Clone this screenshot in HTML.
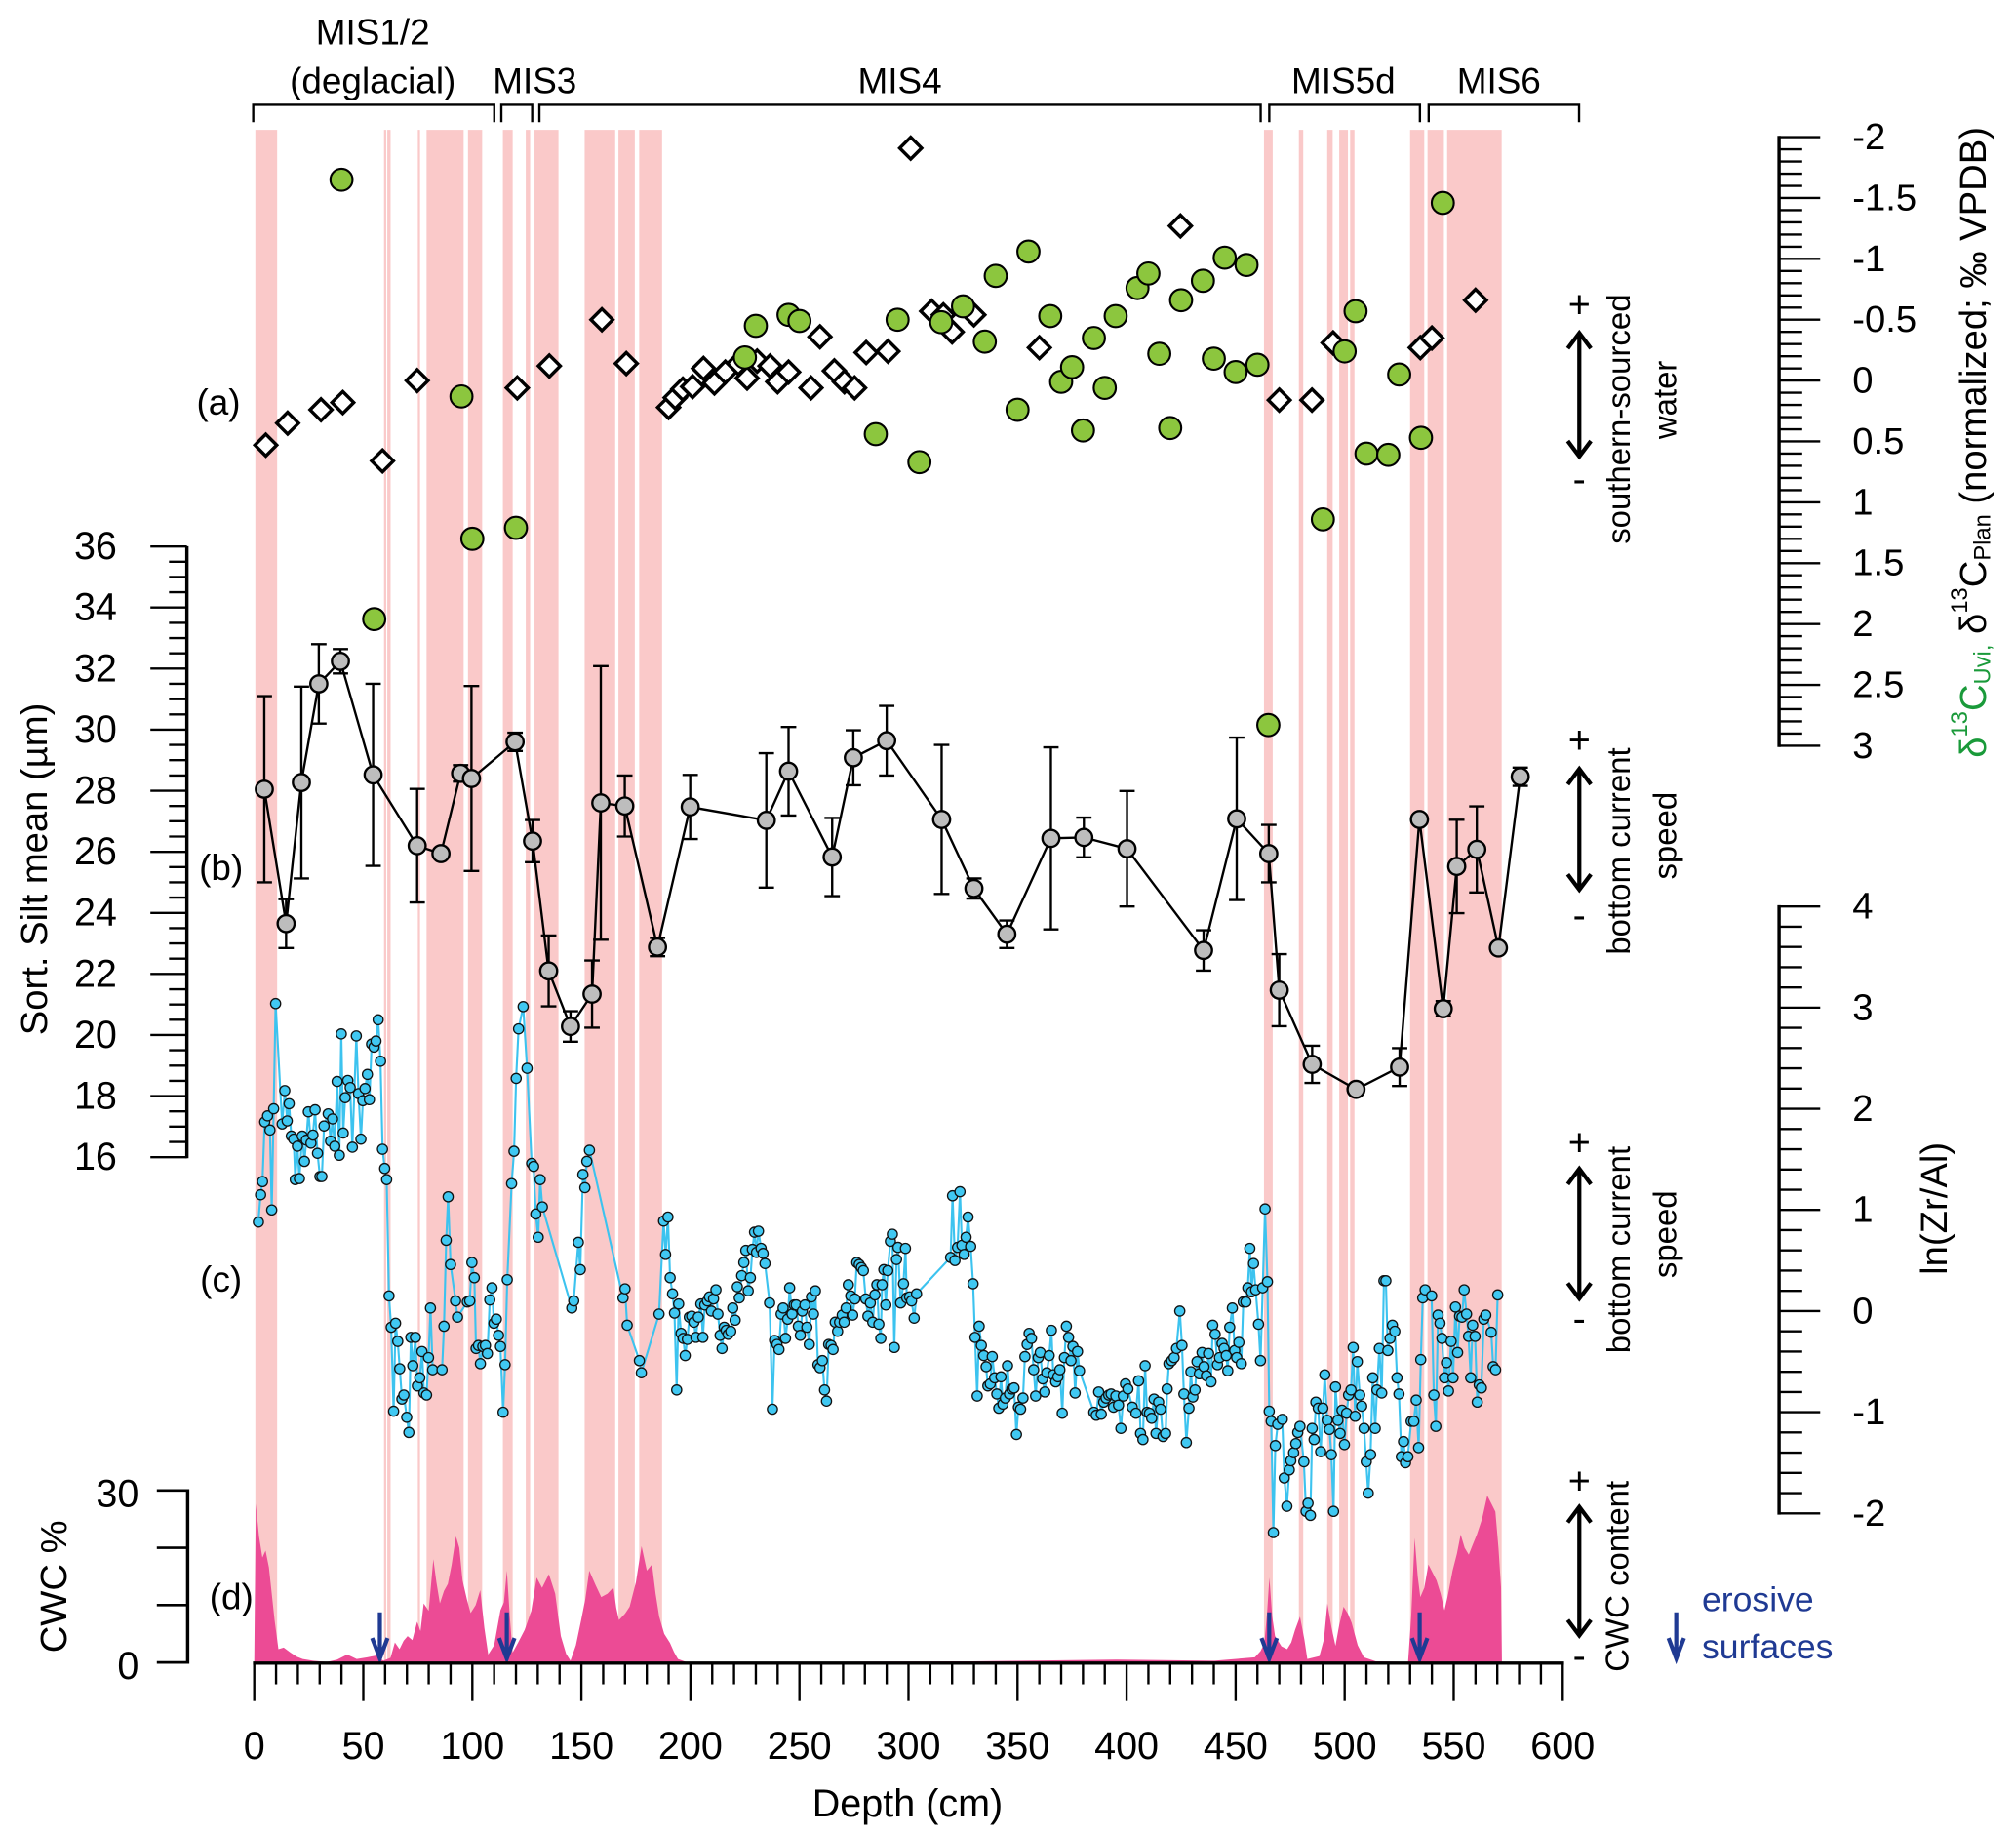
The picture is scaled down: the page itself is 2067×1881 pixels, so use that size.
<!DOCTYPE html>
<html><head><meta charset="utf-8"><style>
html,body{margin:0;padding:0;background:#fff;}
svg{display:block;font-family:"Liberation Sans",Arial,sans-serif;}
</style></head><body>
<svg id="chart" xmlns="http://www.w3.org/2000/svg" width="2067" height="1881" viewBox="0 0 1568.3 1427.2" preserveAspectRatio="none">
<g id="bands"></g>
<g id="cwc"></g>
<g id="zr"></g>
<g id="silt"></g>
<g id="iso"></g>
<g id="axes"></g>
<g id="labels" font-size="28" fill="#000">
  <text x="170" y="313" text-anchor="middle" dominant-baseline="central">(a)</text>
  <text x="172" y="675" text-anchor="middle" dominant-baseline="central">(b)</text>
  <text x="172" y="995" text-anchor="middle" dominant-baseline="central">(c)</text>
  <text x="180" y="1242" text-anchor="middle" dominant-baseline="central">(d)</text>
  <text x="706" y="1403" text-anchor="middle" dominant-baseline="central" font-size="30">Depth (cm)</text>
  <text transform="translate(27,676) rotate(-90)" text-anchor="middle" dominant-baseline="central" font-size="29">Sort. Silt mean (µm)</text>
  <text transform="translate(42,1234) rotate(-90)" text-anchor="middle" dominant-baseline="central" font-size="29">CWC %</text>
  <text transform="translate(1505,940) rotate(-90)" text-anchor="middle" dominant-baseline="central" font-size="29">ln(Zr/Al)</text>
  <text transform="translate(1535,344) rotate(-90)" text-anchor="middle" dominant-baseline="central" font-size="29"><tspan fill="#1a9a3a">δ<tspan font-size="18" dy="-10">13</tspan><tspan dy="10">C</tspan><tspan font-size="18" dy="8">Uvi,</tspan></tspan><tspan dy="-8"> δ</tspan><tspan font-size="18" dy="-10">13</tspan><tspan dy="10">C</tspan><tspan font-size="18" dy="8">Plan</tspan><tspan dy="-8">  (normalized; ‰ VPDB)</tspan></text>
  <text transform="translate(1259,326) rotate(-90)" text-anchor="middle" dominant-baseline="central" font-size="25">southern-sourced</text>
  <text transform="translate(1295,311) rotate(-90)" text-anchor="middle" dominant-baseline="central" font-size="25">water</text>
  <text transform="translate(1259,662) rotate(-90)" text-anchor="middle" dominant-baseline="central" font-size="25">bottom current</text>
  <text transform="translate(1295,650) rotate(-90)" text-anchor="middle" dominant-baseline="central" font-size="25">speed</text>
  <text transform="translate(1259,972) rotate(-90)" text-anchor="middle" dominant-baseline="central" font-size="25">bottom current</text>
  <text transform="translate(1295,960) rotate(-90)" text-anchor="middle" dominant-baseline="central" font-size="25">speed</text>
  <text transform="translate(1258,1226) rotate(-90)" text-anchor="middle" dominant-baseline="central" font-size="25">CWC content</text>
  <text x="1324" y="1253" font-size="27" fill="#1f3a93">erosive</text>
  <text x="1324" y="1290" font-size="27" fill="#1f3a93">surfaces</text>
</g>
<g id="mis" font-size="28"></g>
</svg>
<script>
// ---------- data ----------
const bandStart = [0.5, 59.5, 61, 75, 79, 98, 114, 124.5, 128.5, 151.5, 167, 176.5, 463, 479, 492, 497.5, 502.5, 530, 538, 547];
const bandEnd   = [10.5, 60.5, 62.5, 76, 96, 104.5, 118.5, 126.5, 139.5, 165.5, 174.5, 187, 467, 481, 494.5, 501.5, 504.5, 536.5, 545.5, 572];

const greenDepth = [40, 55, 95, 100, 120, 225, 230, 245, 250, 285, 295, 305, 315, 325, 335, 340, 350, 355, 365, 370, 375, 380, 385, 390, 395, 405, 410, 415, 420, 425, 435, 440, 445, 450, 455, 460, 465, 490, 500, 505, 510, 520, 525, 535, 545];
const greenVal   = [-1.65, 1.96, 0.13, 1.30, 1.21, -0.19, -0.45, -0.54, -0.49, 0.44, -0.50, 0.67, -0.48, -0.61, -0.32, -0.86, 0.24, -1.06, -0.53, 0.01, -0.11, 0.41, -0.35, 0.06, -0.53, -0.76, -0.88, -0.22, 0.39, -0.66, -0.82, -0.18, -1.01, -0.07, -0.95, -0.13, 2.83, 1.14, -0.24, -0.57, 0.60, 0.61, -0.05, 0.47, -1.46];

const diaDepth = [5.3, 15.3, 30.6, 40.6, 58.8, 74.7, 120.6, 135.3, 159.4, 170.6, 190, 193, 196.5, 201, 206, 211, 216, 222, 226, 230.6, 236.5, 240, 245, 255.3, 259.4, 266, 270.6, 275.3, 280.6, 290.6, 301, 310.6, 316, 320, 330, 360, 424.7, 470, 485, 494.7, 534.7, 540, 560];
const diaVal   = [0.53, 0.35, 0.24, 0.18, 0.66, 0, 0.06, -0.12, -0.50, -0.14, 0.22, 0.14, 0.07, 0.05, -0.10, 0.02, -0.07, -0.14, -0.02, -0.16, -0.12, 0.01, -0.07, 0.06, -0.36, -0.08, 0.01, 0.06, -0.23, -0.24, -1.91, -0.57, -0.54, -0.40, -0.54, -0.27, -1.27, 0.16, 0.16, -0.31, -0.27, -0.35, -0.66];

const siltDepth = [4.6, 14.6, 21.6, 29.6, 39.5, 54.5, 74.7, 85.6, 94.6, 99.6, 119.6, 127.6, 135, 145, 154.9, 158.9, 169.9, 184.9, 199.9, 234.8, 245, 265, 274.7, 290, 315.2, 330, 345.1, 365.3, 380.4, 400.2, 435.3, 450.5, 465.2, 470, 485.1, 505.2, 525.2, 534.3, 545.2, 551.4, 560.6, 570.5, 580.5];
const siltVal   = [28.05, 23.65, 28.27, 31.5, 32.24, 28.52, 26.2, 25.94, 28.57, 28.4, 29.6, 26.35, 22.1, 20.28, 21.34, 27.6, 27.5, 22.88, 27.47, 27.03, 28.64, 25.83, 29.08, 29.64, 27.06, 24.8, 23.3, 26.44, 26.47, 26.1, 22.77, 27.08, 25.94, 21.47, 19.04, 18.22, 18.95, 27.06, 20.86, 25.52, 26.08, 22.85, 28.46];
const siltErr   = [3.05, 0.8, 3.14, 1.3, 0.4, 2.98, 1.86, 0.15, 0.27, 3.03, 0.3, 0.69, 1.16, 0.5, 1.1, 4.48, 1.0, 0.3, 1.05, 2.2, 1.45, 1.28, 0.9, 1.14, 2.44, 0.33, 0.45, 2.98, 0.65, 1.89, 0.66, 2.66, 0.94, 1.18, 0.61, 0.15, 0.62, 0, 0.25, 1.53, 1.41, 0.15, 0.3];

const zrDepth = [1.9,2.9,3.8,4.8,6.1,7.2,8.0,8.9,9.8,12.8,14.0,15.1,16.0,17.0,18.1,18.8,19.8,20.7,22.0,23.0,23.9,24.8,26.0,26.9,27.9,29.0,30.1,31.0,32.0,33.9,35.0,35.9,36.9,38.0,39.0,39.9,40.8,41.7,42.9,44.0,45.0,46.8,47.8,48.9,49.8,50.8,51.9,52.8,53.8,54.9,55.8,56.8,57.9,58.8,59.8,60.7,61.8,62.8,63.9,64.8,65.8,66.7,67.7,68.6,69.9,70.9,71.8,72.7,73.9,74.8,75.9,76.9,77.8,79.0,79.9,80.8,81.8,86.1,87.0,88.0,88.9,90.0,92.3,93.2,97.7,98.8,99.8,100.9,101.7,102.8,103.7,104.8,106.0,106.9,108.0,109.0,109.9,111.0,112.0,112.9,114.1,115.0,116.0,118.0,119.1,120.1,121.2,123.3,125.1,127.2,128.1,129.1,130.2,131.1,132.1,145.6,146.5,148.6,149.5,150.7,151.6,152.5,153.7,169.1,170.0,171.0,176.6,177.5,185.6,187.7,188.6,189.7,190.7,191.8,192.7,193.7,194.6,195.7,196.7,197.6,198.6,199.5,200.6,201.6,202.5,203.6,204.8,205.7,206.6,207.8,208.7,209.6,210.6,211.7,212.6,213.6,214.5,215.5,216.4,217.3,218.5,219.4,220.5,221.5,222.4,223.5,224.5,225.4,226.5,227.5,228.4,229.4,230.3,231.2,232.4,233.3,234.2,236.3,237.6,238.6,239.7,240.6,241.6,242.5,243.6,244.6,245.5,246.6,247.6,248.5,249.5,250.4,251.3,252.5,253.4,254.5,255.5,256.4,257.3,258.5,259.4,260.5,261.5,262.4,263.4,264.5,265.4,266.4,267.5,268.4,269.6,270.5,271.4,272.4,273.5,274.4,275.4,276.3,277.4,278.4,279.3,280.4,281.4,282.5,283.6,284.6,285.5,
286.4,287.3,287.9,288.7,289.6,290.5,291.7,292.6,293.5,294.5,295.2,296.4,297.7,298.6,299.2,300.5,301.4,302.6,303.7,319.3,320.2,321.3,322.5,323.6,324.5,325.5,326.4,327.3,328.5,329.6,330.5,331.5,332.4,333.4,334.5,335.6,336.4,337.5,338.4,339.5,340.5,341.4,342.4,343.3,344.4,345.4,346.3,347.4,348.4,349.5,350.4,351.4,352.5,353.4,354.4,355.3,356.4,357.4,358.3,359.5,360.4,361.5,362.5,363.4,364.5,365.5,366.4,367.5,368.5,369.4,370.5,371.5,372.4,373.4,374.5,375.4,376.4,377.5,378.4,385.0,386.1,387.2,388.4,389.5,390.6,391.8,392.9,394.0,395.1,396.3,397.4,398.5,399.5,400.6,402.6,404.3,405.5,406.4,407.5,408.5,409.4,410.5,411.5,412.6,413.5,414.7,415.6,416.7,417.9,418.6,419.4,420.7,421.8,422.9,424.4,425.4,426.3,427.4,428.6,429.5,430.4,431.4,432.3,433.4,434.6,435.5,436.6,437.6,438.7,439.5,440.6,441.7,442.6,443.8,444.7,445.7,446.4,447.3,448.5,449.6,450.5,451.5,452.6,453.5,454.7,455.6,456.5,457.3,458.2,459.2,460.5,461.4,462.4,463.5,464.6,465.4,466.3,467.3,468.2,469.3,471.4,472.3,473.5,474.6,475.3,476.6,477.6,478.5,479.5,481.3,482.3,483.2,484.3,485.1,486.0,486.8,487.9,489.0,490.0,490.9,492.0,493.0,493.9,494.9,495.8,496.9,497.9,498.8,499.9,500.9,501.8,502.9,503.9,504.8,505.8,506.9,507.8,508.9,509.9,510.8,511.9,512.9,514.0,514.8,515.9,517.0,518.0,518.9,519.8,520.8,521.9,523.0,524.0,524.9,526.0,527.0,527.9,529.0,530.5,531.7,532.8,533.9,534.9,535.8,536.9,539.9,540.9,541.8,542.8,543.7,544.6,545.8,546.7,547.6,548.8,549.7,550.8,551.8,552.7,553.8,554.8,555.9,556.8,557.8,558.7,559.8,560.8,561.7,562.7,563.8,564.7,567.2,568.1,569.2,570.2];
const zrVal = [0.88,1.15,1.28,1.87,1.93,1.79,1.00,2.00,3.04,1.85,2.18,1.88,2.05,1.73,1.70,1.30,1.63,1.31,1.73,1.48,1.69,1.97,1.66,1.74,1.99,1.56,1.33,1.33,1.83,1.95,1.68,1.90,1.63,2.27,1.54,2.74,1.76,2.11,2.28,2.21,1.62,2.72,2.15,1.70,2.08,2.20,2.34,2.09,2.64,2.61,2.67,2.88,2.47,1.60,1.41,1.30,0.15,-0.16,-0.99,-0.12,-0.30,-0.57,-0.87,-0.83,-1.05,-1.20,-0.26,-0.54,-0.26,-0.74,-0.66,-0.40,-0.81,-0.83,-0.46,0.03,-0.58,-0.58,-0.15,0.70,1.13,0.46,0.10,-0.06,0.09,0.10,0.48,0.33,-0.37,-0.34,-0.52,-0.35,-0.34,-0.42,0.11,0.23,-0.12,-0.08,-0.24,-0.35,-1.00,-0.53,0.31,1.26,1.58,2.30,2.79,3.01,2.40,1.46,1.43,0.96,0.73,1.30,1.03,0.03,0.10,0.68,0.41,1.35,1.22,1.48,1.59,0.13,0.22,-0.14,-0.49,-0.61,-0.03,0.89,0.56,0.93,0.33,0.17,-0.02,-0.78,0.07,-0.22,-0.27,-0.44,-0.28,-0.06,-0.05,-0.11,-0.26,-0.06,0.07,-0.26,0.06,0.10,0.14,0.00,0.12,0.21,-0.03,-0.24,-0.37,-0.16,-0.19,-0.23,-0.20,0.03,-0.09,0.24,0.13,0.35,0.48,0.60,0.20,0.33,0.61,0.78,0.58,0.79,0.62,0.57,0.47,0.08,-0.97,-0.29,-0.33,-0.38,-0.03,0.03,-0.27,-0.08,0.23,-0.03,0.06,0.06,-0.15,-0.24,0.00,0.06,-0.16,-0.33,0.14,-0.03,0.20,-0.53,-0.56,-0.49,-0.78,-0.89,-0.33,-0.34,-0.38,-0.11,-0.20,-0.11,-0.04,-0.11,0.03,0.26,0.15,-0.04,0.12,0.48,0.46,0.43,0.40,0.12,-0.05,0.08,-0.11,0.16,0.26,
-0.13,-0.27,0.26,0.41,0.06,0.40,0.69,0.76,-0.36,0.51,0.63,0.08,0.27,0.62,0.13,0.14,0.10,-0.07,0.17,0.53,1.14,0.50,0.63,1.18,0.65,0.56,0.73,0.93,0.64,0.27,-0.26,-0.84,-0.15,-0.34,-0.44,-0.55,-0.74,-0.72,-0.45,-0.66,-0.82,-0.96,-0.65,-0.92,-0.86,-0.54,-0.82,-0.77,-0.76,-1.22,-0.95,-0.97,-0.86,-0.45,-0.33,-0.22,-0.27,-0.58,-0.84,-0.46,-0.41,-0.67,-0.80,-0.61,-0.44,-0.19,-0.63,-0.70,-0.65,-0.58,-1.01,-0.46,-0.15,-0.26,-0.49,-0.35,-0.81,-0.40,-0.59,-1.00,-1.03,-0.80,-1.02,-0.90,-0.86,-0.83,-0.82,-0.95,-0.84,-0.93,-1.16,-0.84,-0.72,-0.77,-0.95,-1.01,-0.69,-1.21,-1.27,-0.54,-1.00,-1.01,-1.06,-0.87,-1.21,-0.90,-0.97,-1.24,-1.21,-0.77,-0.52,-0.49,-0.46,-0.37,0.00,-0.34,-0.82,-1.30,-0.96,-0.60,-0.85,-0.78,-0.50,-0.62,-0.41,-0.55,-0.64,-0.42,-0.70,-0.14,-0.23,-0.53,-0.46,-0.32,-0.37,-0.44,-0.59,-0.16,0.03,-0.39,-0.46,-0.31,-0.52,0.09,0.09,0.23,0.62,0.19,0.47,0.21,-0.13,-0.49,0.23,1.01,0.29,-0.99,-1.09,-2.19,-1.33,-1.12,-1.07,-1.65,-1.93,-1.57,-1.48,-1.40,-1.31,-1.20,-1.14,-1.49,-1.98,-1.90,-2.02,-1.16,-1.27,-0.90,-0.96,-1.39,-0.96,-0.63,-1.08,-1.17,-1.42,-1.98,-0.75,-1.08,-1.21,-0.98,-1.32,-1.01,-0.83,-0.78,-0.36,-1.04,-0.50,-0.83,-0.94,-1.16,-1.49,-1.80,-1.42,-0.66,-1.16,-0.78,-0.37,-0.81,0.30,0.30,-0.39,-0.27,-0.14,-0.20,-0.66,-0.82,-1.44,-1.29,-1.50,-1.44,-1.09,-1.09,-0.88,-1.35,-0.48,0.13,0.21,0.15,-0.83,-1.14,-0.04,-0.12,-0.27,-0.66,-0.51,-0.79,-0.30,-0.66,0.04,-0.41,-0.05,-0.06,0.21,-0.03,-0.25,-0.66,-0.14,-0.25,-0.90,-0.73,-0.76,-0.08,-0.04,-0.21,-0.55,-0.58,0.16];

const cwcDepth = [0, 0.7, 2.2, 3.7, 5.2, 6.7, 8.0, 9.3, 11.1, 13.5, 16.7, 19.5, 22.2, 27, 33.3, 38, 42.6, 47, 51.8, 56, 59.2, 62.5, 64.5, 66.6, 68.5, 70.3, 72.5, 74.7, 76.2, 77.7, 80, 82.1, 83.5, 85.1, 87, 88.8, 90.5, 92.5, 94, 95.5, 97.5, 99.2, 101.5, 103.6, 105.5, 107.3, 110, 112.9, 114.5, 115.8, 117.2, 118.4, 121, 124.0, 127, 129.5, 132, 135.1, 138, 140.6, 143, 145.0, 147.5, 149.9, 151.8, 153.6, 156.5, 159.1, 162, 164.7, 166, 167.2, 170, 172.1, 175, 177.6, 180, 182.4, 184, 185.7, 188, 190.6, 192.5, 194.3, 198.0, 255.3, 329.3, 395.9, 440.3, 458.8, 461.5, 463.2, 464.5, 465.5, 466.8, 468.1, 471, 473.6, 475.5, 477.3, 479.5, 481.5, 482.9, 488.4, 490.5, 492.1, 494, 495.8, 497.5, 499.5, 501.5, 503.2, 506, 508.8, 514.3, 529.1, 530.5, 532.1, 533.5, 534.7, 536.5, 538.4, 540.5, 542.1, 544, 545.8, 547.5, 549.5, 551.5, 553.2, 555, 556.9, 558.7, 560.6, 563, 565.4, 567.5, 569.1, 570.5, 571.7, 572.1];
const cwcVal = [0, 27.7, 22, 18.3, 19.5, 16.6, 12, 7.4, 2.3, 2.6, 1.7, 1.0, 0.6, 0.3, 0.1, 0.5, 1.4, 0.6, 0.9, 1.2, 0.3, 0.8, 3.5, 2.3, 3.8, 4.6, 3.9, 7.1, 5.5, 10.3, 9, 18.0, 14, 10.3, 12.5, 13.7, 17, 22.0, 20, 14.3, 11, 8.6, 10, 12.6, 6, 1.4, 3, 9.1, 10.5, 16.0, 8, 1.7, 3.5, 5.7, 9, 14.8, 13, 15.4, 12, 4.6, 1.5, 0.3, 3, 7.4, 11, 16.0, 13.5, 11.4, 12, 13.1, 9.5, 7.4, 8.5, 9.7, 14, 20.3, 16, 17.1, 12, 8.0, 5, 3.4, 1.8, 0.6, 0.1, 0.1, 0.2, 0.5, 0.3, 0.9, 2, 3.4, 9, 14.8, 8, 4.6, 2.8, 2.3, 3.5, 5.7, 8.0, 4, 0.6, 1.1, 4, 10.3, 6, 2.9, 6.5, 9.7, 8.5, 6.9, 3, 0.9, 0.2, 0.1, 8, 21.7, 15, 11.4, 13, 17.1, 15.5, 14.3, 12, 9.1, 12, 16.0, 19, 22.3, 20, 18.8, 20.5, 22.3, 25, 29.1, 27.5, 26.3, 20, 13.1, 0];

const erosionDepth = [57.6, 115.8, 465.4, 534.4];

const misLabels = ["MIS1/2", "MIS3", "MIS4", "MIS5d", "MIS6"];
const misStartPx = [197, 390, 419.6, 987.4, 1111.4];
const misEndPx   = [384.5, 414, 980.7, 1104.6, 1228.4];
const misLabelX  = [290, 416, 700, 1045, 1166];
const misLabelY  = [25, 63, 63, 63, 63];

const depthTicks = [0, 50, 100, 150, 200, 250, 300, 350, 400, 450, 500, 550, 600];
const siltTicks = [16, 18, 20, 22, 24, 26, 28, 30, 32, 34, 36];
const isoTickLabels = ["-2", "-1.5", "-1", "-0.5", "0", "0.5", "1", "1.5", "2", "2.5", "3"];
const zrTicks = [-2, -1, 0, 1, 2, 3, 4];
const cwcTicks = [0, 10, 20, 30];

// ---------- scales ----------
const X = d => 197.8 + 1.6965 * d;
const Yiso = v => 296 + v * 94.66;
const Ysilt = v => 900 - (v - 16) * 23.75;
const Yzr = v => 1019.7 - v * 78.67;
const Ycwc = v => 1293 - v * (133.8 / 30);
const NS = "http://www.w3.org/2000/svg";
function el(tag, parent) { const e = document.createElementNS(NS, tag); parent.appendChild(e); return e; }
function line(parent, x1, y1, x2, y2, w) {
  const l = el("line", parent);
  l.setAttribute("x1", x1); l.setAttribute("y1", y1); l.setAttribute("x2", x2); l.setAttribute("y2", y2);
  l.setAttribute("stroke", "#000"); l.setAttribute("stroke-width", w);
  return l;
}

// bands
const gB = document.getElementById("bands");
for (let i = 0; i < bandStart.length; i++) {
  const r = el("rect", gB);
  
  
  r.setAttribute("x", X(bandStart[i])); r.setAttribute("width", X(bandEnd[i]) - X(bandStart[i]));
  r.setAttribute("y", 101); r.setAttribute("height", 1192);
  r.setAttribute("fill", "#fac9c9");
}

// CWC area
const gC = document.getElementById("cwc");
let pts = cwcDepth.map((d, i) => X(d).toFixed(1) + "," + Ycwc(cwcVal[i]).toFixed(1));
const area = el("polygon", gC);


area.setAttribute("points", X(0) + "," + Ycwc(0) + " " + pts.join(" ") + " " + X(572.1) + "," + Ycwc(0));
area.setAttribute("fill", "#ec4b95");

// Zr/Al
const gZ = document.getElementById("zr");
const zl = el("polyline", gZ);


zl.setAttribute("points", zrDepth.map((d, i) => X(d).toFixed(1) + "," + Yzr(zrVal[i]).toFixed(1)).join(" "));
zl.setAttribute("fill", "none"); zl.setAttribute("stroke", "#3cc3ef"); zl.setAttribute("stroke-width", 1.6);
for (let i = 0; i < zrDepth.length; i++) {
  const c = el("circle", gZ);
  
  
  c.setAttribute("cx", X(zrDepth[i])); c.setAttribute("cy", Yzr(zrVal[i])); c.setAttribute("r", 3.9);
  c.setAttribute("fill", "#40c8f2"); c.setAttribute("stroke", "#111"); c.setAttribute("stroke-width", 1);
}

// erosion arrows
for (let i = 0; i < erosionDepth.length; i++) {
  const a = el("path", gC);
  
  
  const x = X(erosionDepth[i]);
  a.setAttribute("d", `M${x},1254 L${x},1290 M${x-6},1274 L${x},1290 L${x+6},1274`);
  a.setAttribute("stroke", "#1f3a93"); a.setAttribute("stroke-width", 3.2); a.setAttribute("fill", "none");
}

// sortable silt
const gS = document.getElementById("silt");
const sl = el("polyline", gS);


sl.setAttribute("points", siltDepth.map((d, i) => X(d).toFixed(1) + "," + Ysilt(siltVal[i]).toFixed(1)).join(" "));
sl.setAttribute("fill", "none"); sl.setAttribute("stroke", "#000"); sl.setAttribute("stroke-width", 1.8);
for (let i = 0; i < siltDepth.length; i++) {
  const x = X(siltDepth[i]);
  if (siltErr[i] > 0) {
    const e = el("path", gS);
    
    
    const y1 = Ysilt(siltVal[i] + siltErr[i]), y2 = Ysilt(siltVal[i] - siltErr[i]);
    e.setAttribute("d", `M${x},${y1} L${x},${y2} M${x-6},${y1} L${x+6},${y1} M${x-6},${y2} L${x+6},${y2}`);
    e.setAttribute("stroke", "#000"); e.setAttribute("stroke-width", 1.8); e.setAttribute("fill", "none");
  }
  const c = el("circle", gS);
  
  
  c.setAttribute("cx", x); c.setAttribute("cy", Ysilt(siltVal[i])); c.setAttribute("r", 6.6);
  c.setAttribute("fill", "#bdbdbd"); c.setAttribute("stroke", "#000"); c.setAttribute("stroke-width", 1.8);
}

// isotopes
const gI = document.getElementById("iso");
for (let i = 0; i < diaDepth.length; i++) {
  const x = X(diaDepth[i]), y = Yiso(diaVal[i]);
  const p = el("path", gI);
  
  
  p.setAttribute("d", `M${x},${y-8.5} L${x+8.5},${y} L${x},${y+8.5} L${x-8.5},${y} Z`);
  p.setAttribute("fill", "#fff"); p.setAttribute("stroke", "#000"); p.setAttribute("stroke-width", 2.6);
}
for (let i = 0; i < greenDepth.length; i++) {
  const c = el("circle", gI);
  
  
  c.setAttribute("cx", X(greenDepth[i])); c.setAttribute("cy", Yiso(greenVal[i])); c.setAttribute("r", 8.6);
  c.setAttribute("fill", "#8cc63e"); c.setAttribute("stroke", "#000"); c.setAttribute("stroke-width", 1.6);
}

// axes
const gA = document.getElementById("axes");
function txt(parent, x, y, s, anchor, size) {
  const t = el("text", parent);
  t.setAttribute("x", x); t.setAttribute("y", y); t.setAttribute("text-anchor", anchor);
  t.setAttribute("dominant-baseline", "central"); t.setAttribute("font-size", size);
  t.textContent = s; return t;
}
// bottom
const xb = line(gA, X(0) - 1, 1293.5, X(600) + 1, 1293.5, 2.6);


for (let d = 0; d <= 600; d += 10) line(gA, X(d), 1293, X(d), d % 50 === 0 ? 1323 : 1310, 1.8);
depthTicks.forEach(d => {
  const t = txt(gA, X(d), 1358, String(d), "middle", 30);
  
  
});
// silt axis
const sa = line(gA, 145.4, 424.8, 145.4, 900.8, 2.6);


for (let v = 16; v <= 36.01; v += 0.5) line(gA, 117, Ysilt(v), 145.4, Ysilt(v), 1.8).setAttribute("x1", Math.abs(v % 2) < 0.01 ? 117 : 131.5);
siltTicks.forEach(v => {
  const t = txt(gA, 91, Ysilt(v), String(v), "end", 30);
  
  
});
// cwc axis
const ca = line(gA, 146, Ycwc(30) - 1, 146, Ycwc(0) + 1, 2.6);


cwcTicks.forEach(v => {
  line(gA, 122, Ycwc(v), 146, Ycwc(v), 2);
  if (v === 0 || v === 30) {
    const t = txt(gA, 108, Ycwc(v) + 3, String(v), "end", 30);
    
    
  }
});
// isotope axis
const ia = line(gA, 1384, Yiso(-2) - 1, 1384, Yiso(3) + 1, 2.6);


for (let k = 0; k <= 50; k++) { const v = -2 + k * 0.1; line(gA, 1384, Yiso(v), k % 5 === 0 ? 1416 : 1402, Yiso(v), 1.8); }
isoTickLabels.forEach(s => {
  const t = txt(gA, 1441, Yiso(parseFloat(s)), s, "start", 29);
  
  
});
// zr axis
const za = line(gA, 1384, Yzr(4) - 1, 1384, Yzr(-2) + 1, 2.6);


for (let k = 0; k <= 30; k++) { const v = -2 + k * 0.2; line(gA, 1384, Yzr(v), k % 5 === 0 ? 1416 : 1402, Yzr(v), 1.8); }
zrTicks.forEach(v => {
  const t = txt(gA, 1441, Yzr(v), String(v), "start", 29);
  
  
});

// direction arrows with +/-
function dirArrow(yPlus, yTop, yBot, yMinus, name) {
  const g = el("g", gA);
  
  
  const x = 1228.6;
  const p = el("path", g);
  p.setAttribute("d", `M${x},${yTop} L${x},${yBot} M${x-9},${yTop+12} L${x},${yTop} L${x+9},${yTop+12} M${x-9},${yBot-12} L${x},${yBot} L${x+9},${yBot-12}`);
  p.setAttribute("stroke", "#000"); p.setAttribute("stroke-width", 3.2); p.setAttribute("fill", "none");
  txt(g, x, yPlus, "+", "middle", 30);
  txt(g, x, yMinus, "-", "middle", 30);
}
dirArrow(237, 259, 355, 373, "direction-arrow-a");
dirArrow(576, 598, 692, 712, "direction-arrow-b");
dirArrow(889, 909, 1010, 1026, "direction-arrow-c");
dirArrow(1152, 1172, 1272, 1288, "direction-arrow-d");
const la = el("path", gA);


la.setAttribute("d", "M1304,1254 L1304,1290 M1298,1274 L1304,1290 L1310,1274");
la.setAttribute("stroke", "#1f3a93"); la.setAttribute("stroke-width", 3.2); la.setAttribute("fill", "none");

// MIS brackets
const gM = document.getElementById("mis");
for (let i = 0; i < misLabels.length; i++) {
  const p = el("path", gM);
  
  
  const a = misStartPx[i], b = misEndPx[i];
  p.setAttribute("d", `M${a},95 L${a},81.5 L${b},81.5 L${b},95`);
  p.setAttribute("stroke", "#000"); p.setAttribute("stroke-width", 1.8); p.setAttribute("fill", "none");
  const t = txt(gM, misLabelX[i], misLabelY[i], misLabels[i], "middle", 28);
  
  
}
const dg = txt(gM, 290, 63, "(deglacial)", "middle", 28);


</script>
</body></html>
